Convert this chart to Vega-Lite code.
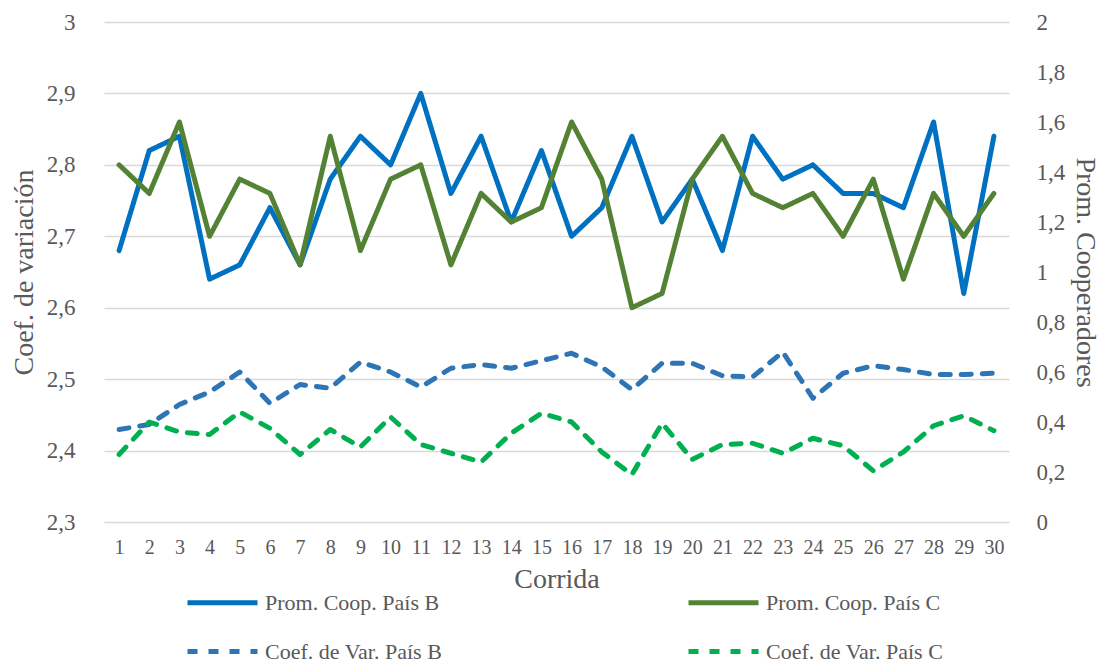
{
  "$schema": "https://vega.github.io/schema/vega-lite/v6.json",
  "width": 905,
  "height": 500,
  "autosize": {"type": "none"},
  "padding": {"left": 104, "top": 22, "right": 103, "bottom": 142},
  "background": "white",
  "config": {
    "font": "'Liberation Serif', 'Times New Roman', 'DejaVu Serif', serif",
    "view": {"stroke": null},
    "axis": {"labelColor": "#595959", "titleColor": "#595959", "titleFontWeight": "normal", "labelFont": "'Liberation Serif', 'DejaVu Serif', serif", "titleFont": "'Liberation Serif', 'DejaVu Serif', serif"},
    "legend": {
      "orient": "none",
      "direction": "horizontal",
      "legendX": 81,
      "legendY": 543,
      "columns": 2,
      "symbolType": "stroke",
      "symbolSize": 4900,
      "symbolStrokeWidth": 5,
      "labelFont": "'Liberation Serif', 'DejaVu Serif', serif",
      "labelFontSize": 22,
      "labelColor": "#595959",
      "labelOffset": 5,
      "labelLimit": 400,
      "columnPadding": 235,
      "rowPadding": -39
    }
  },
  "datasets": {
    "prom": [
      {"corrida": 1, "serie": "Prom. Coop. País B", "valor": 2.68},
      {"corrida": 2, "serie": "Prom. Coop. País B", "valor": 2.82},
      {"corrida": 3, "serie": "Prom. Coop. País B", "valor": 2.84},
      {"corrida": 4, "serie": "Prom. Coop. País B", "valor": 2.64},
      {"corrida": 5, "serie": "Prom. Coop. País B", "valor": 2.66},
      {"corrida": 6, "serie": "Prom. Coop. País B", "valor": 2.74},
      {"corrida": 7, "serie": "Prom. Coop. País B", "valor": 2.66},
      {"corrida": 8, "serie": "Prom. Coop. País B", "valor": 2.78},
      {"corrida": 9, "serie": "Prom. Coop. País B", "valor": 2.84},
      {"corrida": 10, "serie": "Prom. Coop. País B", "valor": 2.80},
      {"corrida": 11, "serie": "Prom. Coop. País B", "valor": 2.90},
      {"corrida": 12, "serie": "Prom. Coop. País B", "valor": 2.76},
      {"corrida": 13, "serie": "Prom. Coop. País B", "valor": 2.84},
      {"corrida": 14, "serie": "Prom. Coop. País B", "valor": 2.72},
      {"corrida": 15, "serie": "Prom. Coop. País B", "valor": 2.82},
      {"corrida": 16, "serie": "Prom. Coop. País B", "valor": 2.70},
      {"corrida": 17, "serie": "Prom. Coop. País B", "valor": 2.74},
      {"corrida": 18, "serie": "Prom. Coop. País B", "valor": 2.84},
      {"corrida": 19, "serie": "Prom. Coop. País B", "valor": 2.72},
      {"corrida": 20, "serie": "Prom. Coop. País B", "valor": 2.78},
      {"corrida": 21, "serie": "Prom. Coop. País B", "valor": 2.68},
      {"corrida": 22, "serie": "Prom. Coop. País B", "valor": 2.84},
      {"corrida": 23, "serie": "Prom. Coop. País B", "valor": 2.78},
      {"corrida": 24, "serie": "Prom. Coop. País B", "valor": 2.80},
      {"corrida": 25, "serie": "Prom. Coop. País B", "valor": 2.76},
      {"corrida": 26, "serie": "Prom. Coop. País B", "valor": 2.76},
      {"corrida": 27, "serie": "Prom. Coop. País B", "valor": 2.74},
      {"corrida": 28, "serie": "Prom. Coop. País B", "valor": 2.86},
      {"corrida": 29, "serie": "Prom. Coop. País B", "valor": 2.62},
      {"corrida": 30, "serie": "Prom. Coop. País B", "valor": 2.84},
      {"corrida": 1, "serie": "Prom. Coop. País C", "valor": 2.80},
      {"corrida": 2, "serie": "Prom. Coop. País C", "valor": 2.76},
      {"corrida": 3, "serie": "Prom. Coop. País C", "valor": 2.86},
      {"corrida": 4, "serie": "Prom. Coop. País C", "valor": 2.70},
      {"corrida": 5, "serie": "Prom. Coop. País C", "valor": 2.78},
      {"corrida": 6, "serie": "Prom. Coop. País C", "valor": 2.76},
      {"corrida": 7, "serie": "Prom. Coop. País C", "valor": 2.66},
      {"corrida": 8, "serie": "Prom. Coop. País C", "valor": 2.84},
      {"corrida": 9, "serie": "Prom. Coop. País C", "valor": 2.68},
      {"corrida": 10, "serie": "Prom. Coop. País C", "valor": 2.78},
      {"corrida": 11, "serie": "Prom. Coop. País C", "valor": 2.80},
      {"corrida": 12, "serie": "Prom. Coop. País C", "valor": 2.66},
      {"corrida": 13, "serie": "Prom. Coop. País C", "valor": 2.76},
      {"corrida": 14, "serie": "Prom. Coop. País C", "valor": 2.72},
      {"corrida": 15, "serie": "Prom. Coop. País C", "valor": 2.74},
      {"corrida": 16, "serie": "Prom. Coop. País C", "valor": 2.86},
      {"corrida": 17, "serie": "Prom. Coop. País C", "valor": 2.78},
      {"corrida": 18, "serie": "Prom. Coop. País C", "valor": 2.60},
      {"corrida": 19, "serie": "Prom. Coop. País C", "valor": 2.62},
      {"corrida": 20, "serie": "Prom. Coop. País C", "valor": 2.78},
      {"corrida": 21, "serie": "Prom. Coop. País C", "valor": 2.84},
      {"corrida": 22, "serie": "Prom. Coop. País C", "valor": 2.76},
      {"corrida": 23, "serie": "Prom. Coop. País C", "valor": 2.74},
      {"corrida": 24, "serie": "Prom. Coop. País C", "valor": 2.76},
      {"corrida": 25, "serie": "Prom. Coop. País C", "valor": 2.70},
      {"corrida": 26, "serie": "Prom. Coop. País C", "valor": 2.78},
      {"corrida": 27, "serie": "Prom. Coop. País C", "valor": 2.64},
      {"corrida": 28, "serie": "Prom. Coop. País C", "valor": 2.76},
      {"corrida": 29, "serie": "Prom. Coop. País C", "valor": 2.70},
      {"corrida": 30, "serie": "Prom. Coop. País C", "valor": 2.76}
    ],
    "coef": [
      {"corrida": 1, "serie": "Coef. de Var. País B", "valor": 0.37},
      {"corrida": 2, "serie": "Coef. de Var. País B", "valor": 0.39},
      {"corrida": 3, "serie": "Coef. de Var. País B", "valor": 0.47},
      {"corrida": 4, "serie": "Coef. de Var. País B", "valor": 0.52},
      {"corrida": 5, "serie": "Coef. de Var. País B", "valor": 0.60},
      {"corrida": 6, "serie": "Coef. de Var. País B", "valor": 0.475},
      {"corrida": 7, "serie": "Coef. de Var. País B", "valor": 0.55},
      {"corrida": 8, "serie": "Coef. de Var. País B", "valor": 0.535},
      {"corrida": 9, "serie": "Coef. de Var. País B", "valor": 0.64},
      {"corrida": 10, "serie": "Coef. de Var. País B", "valor": 0.60},
      {"corrida": 11, "serie": "Coef. de Var. País B", "valor": 0.54},
      {"corrida": 12, "serie": "Coef. de Var. País B", "valor": 0.615},
      {"corrida": 13, "serie": "Coef. de Var. País B", "valor": 0.63},
      {"corrida": 14, "serie": "Coef. de Var. País B", "valor": 0.615},
      {"corrida": 15, "serie": "Coef. de Var. País B", "valor": 0.645},
      {"corrida": 16, "serie": "Coef. de Var. País B", "valor": 0.675},
      {"corrida": 17, "serie": "Coef. de Var. País B", "valor": 0.62},
      {"corrida": 18, "serie": "Coef. de Var. País B", "valor": 0.53},
      {"corrida": 19, "serie": "Coef. de Var. País B", "valor": 0.635},
      {"corrida": 20, "serie": "Coef. de Var. País B", "valor": 0.635},
      {"corrida": 21, "serie": "Coef. de Var. País B", "valor": 0.585},
      {"corrida": 22, "serie": "Coef. de Var. País B", "valor": 0.58},
      {"corrida": 23, "serie": "Coef. de Var. País B", "valor": 0.68},
      {"corrida": 24, "serie": "Coef. de Var. País B", "valor": 0.495},
      {"corrida": 25, "serie": "Coef. de Var. País B", "valor": 0.595},
      {"corrida": 26, "serie": "Coef. de Var. País B", "valor": 0.625},
      {"corrida": 27, "serie": "Coef. de Var. País B", "valor": 0.61},
      {"corrida": 28, "serie": "Coef. de Var. País B", "valor": 0.59},
      {"corrida": 29, "serie": "Coef. de Var. País B", "valor": 0.59},
      {"corrida": 30, "serie": "Coef. de Var. País B", "valor": 0.595},
      {"corrida": 1, "serie": "Coef. de Var. País C", "valor": 0.27},
      {"corrida": 2, "serie": "Coef. de Var. País C", "valor": 0.40},
      {"corrida": 3, "serie": "Coef. de Var. País C", "valor": 0.36},
      {"corrida": 4, "serie": "Coef. de Var. País C", "valor": 0.35},
      {"corrida": 5, "serie": "Coef. de Var. País C", "valor": 0.44},
      {"corrida": 6, "serie": "Coef. de Var. País C", "valor": 0.375},
      {"corrida": 7, "serie": "Coef. de Var. País C", "valor": 0.27},
      {"corrida": 8, "serie": "Coef. de Var. País C", "valor": 0.37},
      {"corrida": 9, "serie": "Coef. de Var. País C", "valor": 0.30},
      {"corrida": 10, "serie": "Coef. de Var. País C", "valor": 0.42},
      {"corrida": 11, "serie": "Coef. de Var. País C", "valor": 0.31},
      {"corrida": 12, "serie": "Coef. de Var. País C", "valor": 0.275},
      {"corrida": 13, "serie": "Coef. de Var. País C", "valor": 0.24},
      {"corrida": 14, "serie": "Coef. de Var. País C", "valor": 0.355},
      {"corrida": 15, "serie": "Coef. de Var. País C", "valor": 0.435},
      {"corrida": 16, "serie": "Coef. de Var. País C", "valor": 0.40},
      {"corrida": 17, "serie": "Coef. de Var. País C", "valor": 0.28},
      {"corrida": 18, "serie": "Coef. de Var. País C", "valor": 0.19},
      {"corrida": 19, "serie": "Coef. de Var. País C", "valor": 0.395},
      {"corrida": 20, "serie": "Coef. de Var. País C", "valor": 0.25},
      {"corrida": 21, "serie": "Coef. de Var. País C", "valor": 0.31},
      {"corrida": 22, "serie": "Coef. de Var. País C", "valor": 0.315},
      {"corrida": 23, "serie": "Coef. de Var. País C", "valor": 0.275},
      {"corrida": 24, "serie": "Coef. de Var. País C", "valor": 0.335},
      {"corrida": 25, "serie": "Coef. de Var. País C", "valor": 0.305},
      {"corrida": 26, "serie": "Coef. de Var. País C", "valor": 0.205},
      {"corrida": 27, "serie": "Coef. de Var. País C", "valor": 0.28},
      {"corrida": 28, "serie": "Coef. de Var. País C", "valor": 0.385},
      {"corrida": 29, "serie": "Coef. de Var. País C", "valor": 0.425},
      {"corrida": 30, "serie": "Coef. de Var. País C", "valor": 0.365}
    ]
  },
  "layer": [
    {
      "data": {"name": "prom"},
      "mark": {"type": "line", "strokeWidth": 5, "strokeJoin": "round", "strokeCap": "round"},
      "encoding": {
        "x": {
          "field": "corrida", "type": "ordinal",
          "scale": {"type": "point", "padding": 0.5},
          "axis": {"title": "Corrida", "labelAngle": 0, "domain": false, "ticks": false, "grid": false, "labelFontSize": 20, "labelPadding": 15, "titleFontSize": 28, "titlePadding": 8}
        },
        "y": {
          "field": "valor", "type": "quantitative",
          "scale": {"domain": [2.3, 3], "nice": false, "zero": false},
          "axis": {"title": "Coef. de variación", "values": [2.3, 2.4, 2.5, 2.6, 2.7, 2.8, 2.9, 3.0], "format": ".1~f", "labelExpr": "replace(datum.label, '.', ',')", "grid": true, "gridColor": "#D9D9D9", "gridWidth": 1.3, "domain": false, "ticks": false, "labelFontSize": 23, "labelPadding": 29, "titleFontSize": 28, "titlePadding": 8}
        },
        "color": {
          "field": "serie", "type": "nominal",
          "scale": {"domain": ["Prom. Coop. País B", "Prom. Coop. País C", "Coef. de Var. País B", "Coef. de Var. País C"], "range": ["#0070C0", "#548235", "#2E75B6", "#00B050"]},
          "legend": {"title": null}
        },
        "strokeDash": {
          "field": "serie", "type": "nominal",
          "scale": {"domain": ["Prom. Coop. País B", "Prom. Coop. País C", "Coef. de Var. País B", "Coef. de Var. País C"], "range": [[1, 0], [1, 0], [10, 11], [10, 11]]},
          "legend": {"title": null}
        }
      }
    },
    {
      "data": {"name": "coef"},
      "mark": {"type": "line", "strokeWidth": 5, "strokeJoin": "round", "strokeCap": "round"},
      "encoding": {
        "x": {
          "field": "corrida", "type": "ordinal",
          "scale": {"type": "point", "padding": 0.5},
          "axis": {"title": "Corrida", "labelAngle": 0, "domain": false, "ticks": false, "grid": false, "labelFontSize": 20, "labelPadding": 15, "titleFontSize": 28, "titlePadding": 8}
        },
        "y": {
          "field": "valor", "type": "quantitative",
          "scale": {"domain": [0, 2], "nice": false},
          "axis": {"orient": "right", "title": "Prom. Cooperadores", "values": [0, 0.2, 0.4, 0.6, 0.8, 1, 1.2, 1.4, 1.6, 1.8, 2], "format": ".1~f", "labelExpr": "replace(datum.label, '.', ',')", "grid": false, "domain": false, "ticks": false, "labelFontSize": 23, "labelPadding": 27, "titleFontSize": 28, "titlePadding": 6}
        },
        "color": {"field": "serie", "type": "nominal", "legend": {"title": null}},
        "strokeDash": {"field": "serie", "type": "nominal", "legend": {"title": null}}
      }
    }
  ],
  "resolve": {"scale": {"y": "independent"}}
}
